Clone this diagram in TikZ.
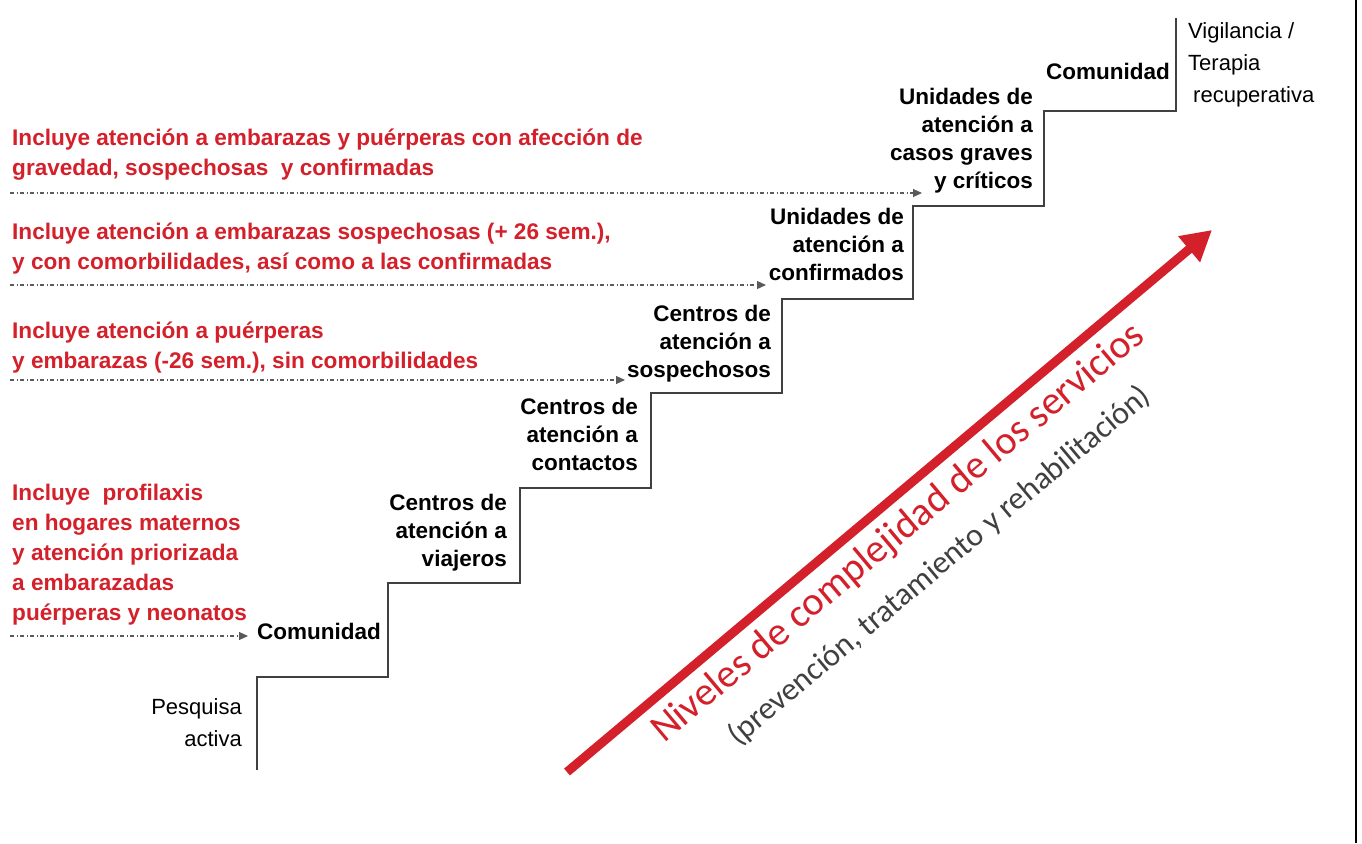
\documentclass[tikz,border=0pt]{standalone}
\usepackage{fontspec}
\setmainfont{Liberation Sans}
\newfontfamily\calib{Carlito}
\usetikzlibrary{arrows.meta}
\definecolor{cred}{RGB}{212,32,42}
\definecolor{cgray}{RGB}{64,64,64}
\definecolor{dgray}{RGB}{90,90,90}
\begin{document}
\begin{tikzpicture}[x=1pt,y=-1pt,
 redtxt/.style={text=cred,font=\bfseries\fontsize{22.6}{30}\selectfont,align=left,anchor=base west,inner sep=0},
 steplbl/.style={font=\bfseries\fontsize{22.5}{28}\selectfont,align=right,anchor=base east,inner sep=0},
 plainlbl/.style={font=\fontsize{22}{32}\selectfont,inner sep=0},
 dotarrow/.style={draw=dgray,line width=1.1pt,dash pattern=on 4pt off 2.5pt on 1pt off 2.5pt,-{Triangle[length=9pt,width=8pt]}},
 stair/.style={draw=cgray,line width=1.3pt},
 bigarrow/.style={draw=cred,line width=9pt,-{Triangle[length=30pt,width=32pt]}},
]
\useasboundingbox (0,0) rectangle (1362,843);
\fill[white] (0,0) rectangle (1362,843);
% right border
\coordinate (bt) at (1356,0);
\coordinate (bb) at (1356,843);
\draw[line width=1.6pt] (bt) -- (bb);
% staircase
\draw[stair] (257,770) -- (257,677) -- (388,677) -- (388,583) -- (520,583) -- (520,488)
 -- (651,488) -- (651,393) -- (782,393) -- (782,299) -- (913,299) -- (913,206)
 -- (1044,206) -- (1044,111) -- (1176,111) -- (1176,18);
% red texts (anchor = baseline of last line)
\node[redtxt] (r1) at (12,175) {Incluye atención a embarazas y puérperas con afección de\\gravedad, sospechosas\ \ y confirmadas};
\node[redtxt] (r2) at (12,269) {Incluye atención a embarazas sospechosas (+ 26 sem.),\\y con comorbilidades, así como a las confirmadas};
\node[redtxt] (r3) at (12,368) {Incluye atención a puérperas\\y embarazas (-26 sem.), sin comorbilidades};
\node[redtxt] (r4) at (12,620) {Incluye\ \ profilaxis\\en hogares maternos\\y atención priorizada\\a embarazadas\\puérperas y neonatos};
% step labels
\node[steplbl] (l1) at (381,639) {Comunidad};
\node[steplbl] (l2) at (507,566) {Centros de\\atención a\\viajeros};
\node[steplbl] (l3) at (638,470) {Centros de\\atención a\\contactos};
\node[steplbl] (l4) at (771,377) {Centros de\\atención a\\sospechosos};
\node[steplbl] (l5) at (904,280) {Unidades de\\atención a\\confirmados};
\node[steplbl] (l6) at (1033,188) {Unidades de\\atención a\\casos graves\\y críticos};
\node[steplbl] (l7) at (1170,79) {Comunidad};
\node[plainlbl,align=right,anchor=base east] (p1) at (242,746) {Pesquisa\\activa};
\node[plainlbl,align=left,anchor=base west] (p2) at (1188,102) {Vigilancia /\\Terapia\\\hspace{5pt}recuperativa};
% dotted arrows
\coordinate (a1s) at (10,193); \coordinate (a1e) at (922,193);
\coordinate (a2s) at (10,285); \coordinate (a2e) at (766,285);
\coordinate (a3s) at (10,380); \coordinate (a3e) at (625,380);
\coordinate (a4s) at (10,636); \coordinate (a4e) at (248,636);
\draw[dotarrow] (a1s) -- (a1e);
\draw[dotarrow] (a2s) -- (a2e);
\draw[dotarrow] (a3s) -- (a3e);
\draw[dotarrow] (a4s) -- (a4e);
% big arrow
\coordinate (gs) at (567,772);
\coordinate (ge) at (1212,230);
\draw[bigarrow] (gs) -- (ge);
\node[rotate=40,anchor=base west,inner sep=0,text=cred,font=\calib\fontsize{40}{40}\selectfont] (n1) at (664,744) {Niveles de complejidad de los servicios};
\node[rotate=40,anchor=base west,inner sep=0,text=cgray,font=\calib\fontsize{32}{32}\selectfont] (n2) at (738,747) {(prevención, tratamiento y rehabilitación)};
\end{tikzpicture}
\end{document}
